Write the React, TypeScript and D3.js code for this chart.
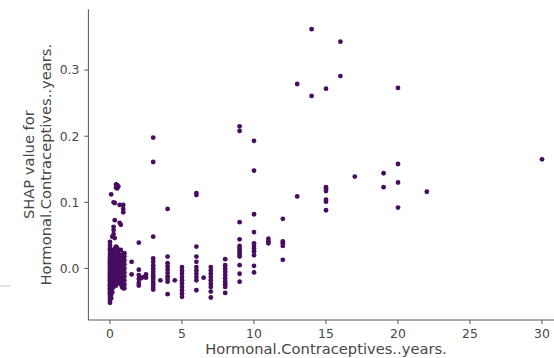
import React from "react";
import * as d3 from "d3";

// x value (Hormonal.Contraceptives..years.) for each column of points
const xLevels: number[] = [
  0, 0.08, 0.16, 0.25, 0.33, 0.42, 0.5, 0.58, 0.67, 0.75, 0.83, 0.92, 1.0,
  1.5, 2, 2.15, 2.3, 2.5, 3, 3.5, 4, 4.5, 5, 6, 6.5, 7, 8, 9, 10, 11, 12, 13,
  14, 15, 16, 17, 19, 20, 22, 30,
];

// SHAP values for each x level (same order as xLevels)
const shapByLevel: number[][] = [
  [0.040, 0.035, 0.030, 0.027, 0.022, 0.018, 0.015, 0.012, 0.010, 0.008, 0.006, 0.004, 0.002, 0.000, -0.002, -0.004, -0.006, -0.008, -0.010, -0.012, -0.014, -0.016, -0.018, -0.020, -0.022, -0.024, -0.026, -0.028, -0.030, -0.032, -0.034, -0.036, -0.038, -0.040, -0.043, -0.046, -0.049, -0.052],
  [0.112, 0.025, 0.020, 0.015, 0.010, 0.005, 0.000, -0.005, -0.010, -0.015, -0.020, -0.025, -0.030, -0.035, -0.040, -0.045],
  [0.048, 0.022, 0.016, 0.011, 0.006, 0.001, -0.004, -0.009, -0.014, -0.019, -0.024, -0.030, -0.036],
  [0.100, 0.063, 0.058, 0.052, 0.028, 0.020, 0.014, 0.008, 0.002, -0.004, -0.010, -0.016, -0.022, -0.028],
  [0.099, 0.073, 0.046, 0.030, 0.022, 0.015, 0.009, 0.003, -0.003, -0.009, -0.015, -0.021],
  [0.127, 0.122, 0.033, 0.024, 0.017, 0.010, 0.004, -0.002, -0.008, -0.014, -0.020, -0.026],
  [0.126, 0.121, 0.031, 0.023, 0.016, 0.010, 0.004, -0.002, -0.008, -0.014, -0.019],
  [0.124, 0.025, 0.018, 0.012, 0.006, 0.000, -0.006, -0.012, -0.018],
  [0.096, 0.069, 0.020, 0.014, 0.008, 0.002, -0.004, -0.010, -0.016, -0.022],
  [0.066, 0.028, 0.018, 0.012, 0.006, 0.000, -0.006, -0.012, -0.018, -0.024],
  [0.020, 0.014, 0.008, 0.002, -0.004, -0.010, -0.016, -0.022, -0.028],
  [0.096, 0.090, 0.085, 0.022, 0.016, 0.010, 0.004, -0.002, -0.008, -0.014, -0.020, -0.026, -0.030],
  [0.023, 0.018, 0.012, 0.006, 0.000, -0.006, -0.012, -0.018, -0.024, -0.030],
  [0.010, -0.009],
  [0.039, -0.002, -0.010, -0.016, -0.022, -0.026],
  [-0.015],
  [-0.013],
  [-0.009, -0.014],
  [0.198, 0.161, 0.048, 0.015, 0.010, 0.005, 0.000, -0.004, -0.008, -0.012, -0.016, -0.020, -0.024, -0.028, -0.032],
  [-0.018],
  [0.090, 0.018, 0.008, 0.003, -0.002, -0.007, -0.012, -0.016, -0.020, -0.039],
  [-0.018],
  [0.002, -0.003, -0.008, -0.013, -0.018, -0.023, -0.028, -0.033, -0.038, -0.043],
  [0.114, 0.111, 0.033, 0.018, 0.010, 0.002, -0.003, -0.008, -0.013, -0.018, -0.033],
  [-0.014],
  [0.002, -0.003, -0.008, -0.013, -0.018, -0.023, -0.028, -0.035, -0.044],
  [0.014, 0.005, 0.000, -0.005, -0.010, -0.015, -0.020, -0.024, -0.028, -0.037],
  [0.215, 0.208, 0.070, 0.044, 0.034, 0.031, 0.028, 0.025, 0.022, 0.018, 0.005, -0.008, -0.020],
  [0.193, 0.148, 0.082, 0.055, 0.038, 0.034, 0.030, 0.026, 0.020, 0.004, -0.006],
  [0.045, 0.041, 0.038],
  [0.075, 0.041, 0.038, 0.034, 0.013],
  [0.279, 0.109],
  [0.362, 0.261],
  [0.272, 0.123, 0.120, 0.117, 0.104, 0.101, 0.088],
  [0.343, 0.291],
  [0.139],
  [0.144, 0.123],
  [0.273, 0.158, 0.130, 0.092],
  [0.116],
  [0.165],
];

const xTicks: number[] = [0, 5, 10, 15, 20, 25, 30];
const yTicks: number[] = [0.0, 0.1, 0.2, 0.3];
const xLabel = "Hormonal.Contraceptives..years.";
const yLabelLines: string[] = ["SHAP value for", "Hormonal.Contraceptives..years."];

const W = 554;
const H = 358;
const left = 88.4;
const right = 563.6;
const top = 9.3;
const bottom = 320;
const axisColor = "#555555";
const textColor = "#484848";
const dotColor = "#470d60";
const font = "'DejaVu Sans', sans-serif";

export default function App() {
  const x = d3.scaleLinear().domain([-1.5, 31.5]).range([left, right]);
  const y = d3.scaleLinear().domain([-0.078, 0.392]).range([bottom, top]);

  const points: { x: number; y: number }[] = [];
  xLevels.forEach((xv, i) => {
    (shapByLevel[i] || []).forEach((yv) => points.push({ x: xv, y: yv }));
  });

  const yMid = (top + bottom) / 2;
  const xMid = (left + right) / 2;

  return (
    <svg
      width={W}
      height={H}
      style={{ position: "fixed", left: 0, top: 0, background: "#fff" }}
      fontFamily={font}
    >
      <rect x={0} y={0} width={W} height={H} fill="#fff" />
      {/* stray fragment at left edge */}
      <line x1={0} x2={10} y1={286} y2={286} stroke="#c8c8c8" strokeWidth={1} />

      {points.map((p, i) => (
        <circle key={i} cx={x(p.x)} cy={y(p.y)} r={2.4} fill={dotColor} />
      ))}

      {/* spines */}
      <line x1={left} x2={left} y1={top} y2={bottom} stroke={axisColor} strokeWidth={1} />
      <line x1={left} x2={right} y1={bottom} y2={bottom} stroke={axisColor} strokeWidth={1} />

      {xTicks.map((t) => (
        <g key={"x" + t} transform={`translate(${x(t)},${bottom})`}>
          <line y1={0} y2={4} stroke={axisColor} />
          <text y={18} textAnchor="middle" fontSize={12.4} fill={textColor}>
            {d3.format("d")(t)}
          </text>
        </g>
      ))}
      {yTicks.map((t) => (
        <g key={"y" + t} transform={`translate(${left},${y(t)})`}>
          <line x1={0} x2={-4} stroke={axisColor} />
          <text x={-9} dy="0.35em" textAnchor="end" fontSize={12.4} fill={textColor}>
            {d3.format(".1f")(t)}
          </text>
        </g>
      ))}

      <text x={xMid} y={354} textAnchor="middle" fontSize={14.7} fill={textColor}>
        {xLabel}
      </text>
      {yLabelLines.map((s, i) => (
        <text
          key={i}
          transform={`translate(${34 + i * 17},${yMid}) rotate(-90)`}
          textAnchor="middle"
          fontSize={14.7}
          fill={textColor}
        >
          {s}
        </text>
      ))}
    </svg>
  );
}
